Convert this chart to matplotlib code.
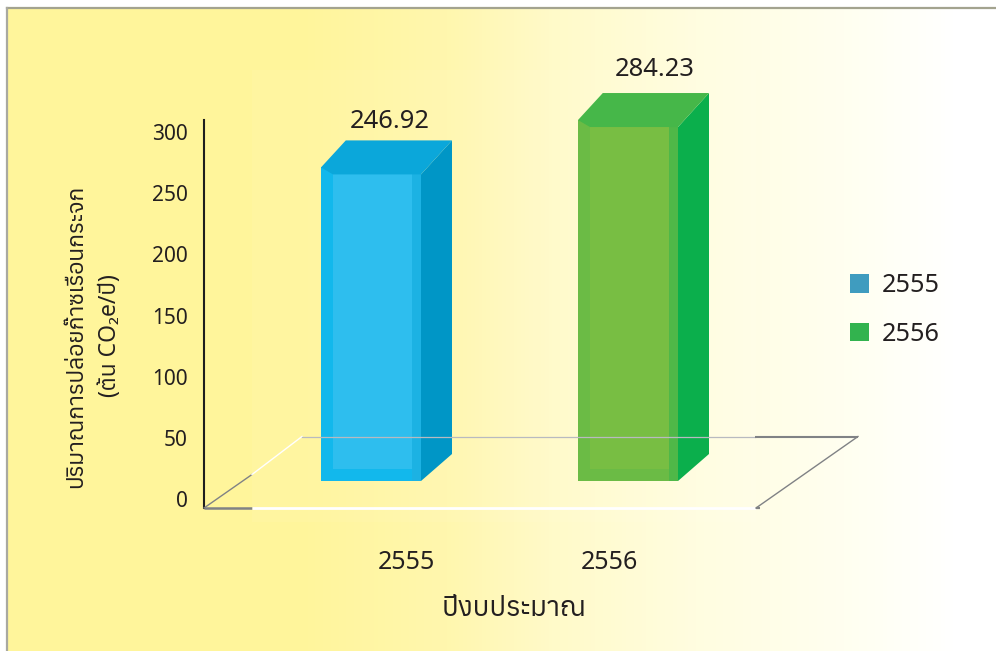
import numpy as np
import matplotlib
matplotlib.use("Agg")
import matplotlib.pyplot as plt
from matplotlib.colors import LinearSegmentedColormap
from matplotlib.patches import Patch, Polygon

categories = ["2555", "2556"]
values = [246.92, 284.23]
y_ticks = [0, 50, 100, 150, 200, 250, 300]
x_title = "ปีงบประมาณ"
y_title = "ปริมาณการปล่อยก๊าซเรือนกระจก\n(ต้น CO₂e/ปี)"

front_edge = ["#12B8EC", "#6BBB45"]
front_inner = ["#2EBEEE", "#78BE43"]
front_shade = ["#1CB2E3", "#4FB848"]
top_color = ["#0BA7DA", "#46B749"]
side_color = ["#0096C6", "#0BAF4C"]
legend_color = ["#3F9CBF", "#32B34E"]

W, H = 996, 651
INK = "#231F20"
plt.rcParams["font.family"] = ["Noto Sans", "Anuphan", "DejaVu Sans"]


def px_axes(left, top, right, bottom, **kw):
    return fig.add_axes([left / W, 1 - bottom / H, (right - left) / W, (bottom - top) / H], **kw)


fig = plt.figure(figsize=(W / 100, H / 100), dpi=100, facecolor="white")

# page background and frame, in pixels
bg = px_axes(0, 0, W, H, zorder=0)
bg.set_xlim(0, W)
bg.set_ylim(H, 0)
bg.axis("off")
cmap = LinearSegmentedColormap.from_list(
    "page",
    [(0, "#FFF59B"), (0.3, "#FFF59B"), (0.45, "#FFF7AE"), (0.55, "#FFFAC8"),
     (0.7, "#FFFDE0"), (0.85, "#FFFFF0"), (0.96, "#FFFFFF"), (1, "#FFFFFF")],
)
bg.imshow(np.linspace(0, 1, 996).reshape(1, -1), cmap=cmap, aspect="auto", extent=[0, W, H, 0], zorder=0)
bg.add_patch(plt.Rectangle((0, 0), W, 7, color="white", lw=0, zorder=1))
bg.add_patch(plt.Rectangle((0, 0), 6, H, color="white", lw=0, zorder=1))
bg.plot([6.5, W], [7.5, 7.5], color="#A3A38F", lw=1.6, zorder=2)
bg.plot([6.5, 6.5], [7.5, H], color="#A9A9A0", lw=1.6, zorder=2)
# faint pasted patch behind the bars
bg.add_patch(plt.Rectangle((252, 70), 504, 452, color="white", alpha=0.05, lw=0, zorder=1))

# value axis and category labels
ax = px_axes(204, 120, 756, 508, zorder=2)
ax.patch.set_alpha(0)
ax.set_ylim(-7.4, 310)
ax.set_xlim(-0.995, 1.724)
ax.set_yticks(y_ticks)
ax.set_xticks(range(len(categories)), categories)
ax.tick_params(axis="y", length=0, pad=11.5, labelsize=15, labelcolor=INK)
ax.tick_params(axis="x", length=0, pad=30, labelsize=18, labelcolor=INK)
for name in ["top", "right", "bottom"]:
    ax.spines[name].set_visible(False)
ax.spines["left"].set_color("#1E1E1E")
ax.spines["left"].set_linewidth(1.5)
ax.set_xlabel(x_title, fontsize=20, color=INK, va="center")
ax.xaxis.set_label_coords((514 - 204) / 552, -(609 - 508) / 388)
fig.text(93 / W, 1 - 336 / H, y_title, rotation=90, fontsize=16.5, color=INK,
         ha="center", va="center", ma="center", linespacing=1.5)

# bars, on their own scale: the picture's 3D view sits above the floor edge
bars = px_axes(204, 60, 756, 481, zorder=3)
bars.patch.set_alpha(0)
bars.axis("off")
PX_X, PX_Y = 257.0, 1.27
bars.set_xlim(-(371 - 204) / PX_X, (756 - 371) / PX_X)
bars.set_ylim(0, 421 / PX_Y)
width = 100 / PX_X
dx, dy = 31 / PX_X, 27 / PX_Y
band_x, band_y = 12 / PX_X, 7 / PX_Y
shade_x = 9 / PX_X
label_nudge = [(19, 19), (27, 24)]

for i, v in enumerate(values):
    left, right = i - width / 2, i + width / 2
    bars.bar(i, v, width=width, color=front_edge[i], lw=0, zorder=2)
    bars.bar(left + band_x + (width - band_x) / 2, v - band_y - 12 / PX_Y, width=width - band_x,
             bottom=12 / PX_Y, color=front_inner[i], lw=0, zorder=3)
    bars.bar(right - shade_x / 2, v, width=shade_x, color=front_shade[i], lw=0, zorder=3)
    bars.add_patch(Polygon([(right, 0), (right + dx, dy), (right + dx, v + dy), (right, v - band_y)],
                           color=side_color[i], lw=0, zorder=4))
    bars.add_patch(Polygon([(left, v), (left + dx * 0.8, v + dy), (right + dx, v + dy),
                            (right, v - band_y), (left + band_x, v - band_y)],
                           color=top_color[i], lw=0, zorder=4))
    nx, ny = label_nudge[i]
    bars.annotate(f"{v:.2f}", (i, v + dy), xytext=(nx * 0.72, ny * 0.72), textcoords="offset points",
                  ha="center", va="center", fontsize=18.4, color=INK, annotation_clip=False)

# floor of the 3D view
floor = px_axes(0, 0, W, H, zorder=4)
floor.set_xlim(0, W)
floor.set_ylim(H, 0)
floor.axis("off")
GREY = "#808285"
floor.plot([204, 252], [508, 508], color=GREY, lw=1.8, solid_capstyle="butt")
floor.plot([252, 756], [508, 508], color="white", lw=2, solid_capstyle="butt")
floor.plot([204, 252], [508, 474.5], color=GREY, lw=1)
floor.plot([252, 302], [474.5, 436.5], color="white", lw=1)
floor.plot([302, 755], [436.5, 436.5], color="#B8BAC0", lw=0.9)
floor.plot([755, 858], [436.5, 436.5], color=GREY, lw=1.5, solid_capstyle="butt")
floor.plot([756, 858], [508, 436.5], color=GREY, lw=1)
floor.plot([756, 760], [508, 508], color=GREY, lw=1.6, solid_capstyle="butt")

handles = [Patch(color=c, lw=0, label=n) for c, n in zip(legend_color, categories)]
fig.legend(handles=handles, loc="center left", bbox_to_anchor=(850 / W, 1 - 310 / H), frameon=False,
           fontsize=18.2, labelcolor=INK, handlelength=0.76, handleheight=0.76, handletextpad=0.5,
           labelspacing=0.93, borderpad=0, borderaxespad=0)

fig.savefig("out.png", dpi=100)
